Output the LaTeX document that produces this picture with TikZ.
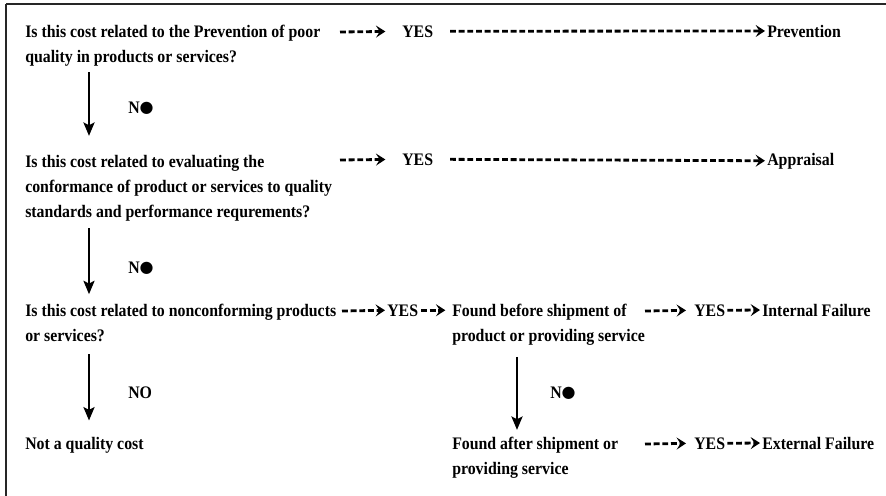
\documentclass[tikz,border=0pt]{standalone}
\usepackage{fontspec}
\setmainfont{Liberation Serif}[FakeStretch=0.9]
\newfontfamily\dotfont{DejaVu Sans}
\usetikzlibrary{arrows.meta}

% stacked lines whose first baseline is the node baseline
\newcommand\tlines[1]{\begin{tabular}[t]{@{}l@{}}#1\end{tabular}}
\newcommand\Nb{N{\dotfont\fontsize{12}{12}\selectfont\raisebox{0.2pt}{\char"25CF}}}

\tikzset{
  txt/.style={inner sep=0pt, anchor=base west,
    font=\fontsize{13.2}{18.75}\selectfont\bfseries},
  dasharrow/.style={line width=2.1pt, dash pattern=on 4.4pt off 2.1pt,
    -{Stealth[length=7pt,width=9pt,inset=2.8pt]}},
  downarrow/.style={line width=2pt,
    -{Stealth[length=10pt,width=8.2pt,inset=2pt]}},
  frameline/.style={line width=1.8pt, black!85}
}

\begin{document}
\begin{tikzpicture}[x=0.75pt,y=-0.75pt]
\useasboundingbox (0,0) rectangle (886,496);

% frame
\draw[frameline] (6,4) -- (886,4);
\draw[frameline] (6,4) -- (6,496);

% columns of the vertical connectors
\coordinate (colA) at (89,0);
\coordinate (colB) at (517,0);

% first question
\node[txt] (q1) at (25,37) {\tlines{Is this cost related to the Prevention of poor\\quality in products or services?}};
\node[txt] (yes1) at (402,37) {YES};
\node[txt] (prev) at (767,37) {Prevention};
\coordinate (s1) at (340,32);
\draw[dasharrow, shorten >=12.5pt] (s1) -- (yes1.west);
\draw[dasharrow, shorten <=12.5pt, shorten >=1.5pt] (yes1.east) -- (prev.west);

\node[txt] (n1) at (128,113) {\Nb};

% second question
\node[txt] (q2) at (25,167) {\tlines{Is this cost related to evaluating the\\conformance of product or services to quality\\standards and performance requrements?}};
\node[txt] (yes2) at (402,165) {YES};
\node[txt] (appr) at (767,165) {Appraisal};
\coordinate (s2) at (340,160);
\draw[dasharrow, shorten >=12.5pt] (s2) -- (yes2.west);
\draw[dasharrow, shorten <=12.5pt, shorten >=1.5pt] (yes2.east) -- (appr.west);

\draw[downarrow, shorten <=2pt, shorten >=10pt] (q1.south -| colA) -- (q2.north -| colA);

\node[txt] (n2) at (128,273) {\Nb};

% third question
\node[txt] (q3) at (25,316) {\tlines{Is this cost related to nonconforming products\\or services?}};
\node[txt] (yes3) at (387,316) {YES};
\node[txt] (f1) at (452,316) {\tlines{Found before shipment of\\product or providing service}};
\coordinate (s3) at (342,311);
\draw[dasharrow, shorten >=1.5pt] (s3) -- (yes3.west);
\draw[dasharrow, shorten <=2pt, shorten >=5pt] (yes3.east) -- (f1.west |- yes3.west);

\draw[downarrow, shorten <=2.5pt, shorten >=3pt] (q2.south -| colA) -- (q3.north -| colA);

\node[txt] (yes4) at (694,316) {YES};
\node[txt] (intf) at (762,316) {Internal Failure};
\coordinate (s4) at (645,311);
\draw[dasharrow, shorten >=6pt] (s4) -- (yes4.west);
\draw[dasharrow, shorten <=1.5pt, shorten >=1.5pt] (yes4.east) -- (intf.west);

\node[txt] (n3) at (128,398) {NO};
\node[txt] (nq) at (25,449) {Not a quality cost};
\draw[downarrow, shorten <=4pt, shorten >=12pt] (q3.south -| colA) -- (nq.north -| colA);

% found after shipment
\node[txt] (n4) at (550,398) {\Nb};
\node[txt] (f2) at (452,449) {\tlines{Found after shipment or\\providing service}};
\draw[downarrow, shorten <=6pt, shorten >=1pt] (f1.south -| colB) -- (f2.north -| colB);

\node[txt] (yes5) at (694,449) {YES};
\node[txt] (extf) at (762,449) {External Failure};
\coordinate (s5) at (645,444);
\draw[dasharrow, shorten >=6pt] (s5) -- (yes5.west);
\draw[dasharrow, shorten <=1.5pt, shorten >=1.5pt] (yes5.east) -- (extf.west);
\end{tikzpicture}
\end{document}
